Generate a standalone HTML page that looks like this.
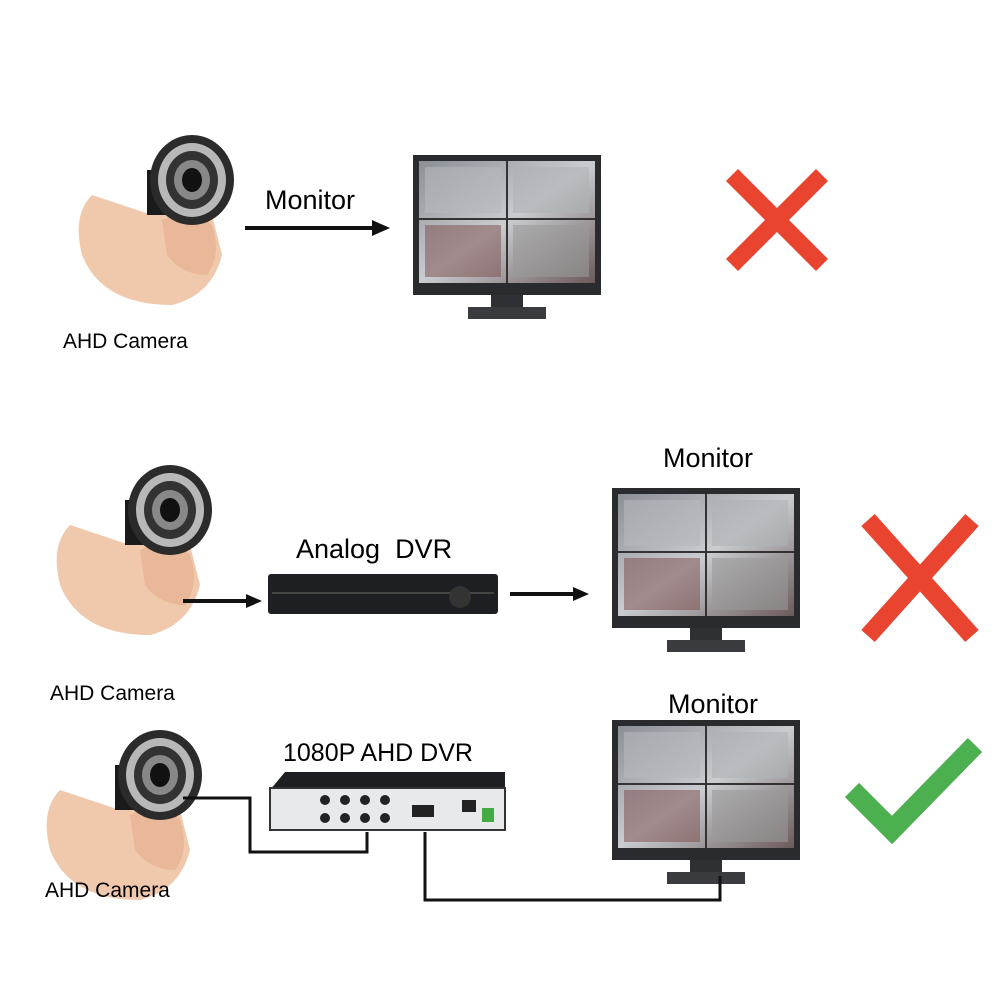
<!DOCTYPE html>
<html><head><meta charset="utf-8"><style>
html,body{margin:0;padding:0;background:#fff;width:1000px;height:1000px;overflow:hidden}
svg text{font-family:"Liberation Sans",Arial,sans-serif;fill:#000}
</style></head><body>
<svg width="1000" height="1000" viewBox="0 0 1000 1000" xmlns="http://www.w3.org/2000/svg">
<defs>
<linearGradient id="scr" x1="0" y1="0" x2="1" y2="1">
<stop offset="0" stop-color="#8a8f96"/><stop offset="0.5" stop-color="#c9ccd0"/><stop offset="1" stop-color="#6b5a5a"/></linearGradient>
<g id="cam">
<!-- finger/hand -->
<ellipse cx="0" cy="0" rx="1" ry="1" fill="none"/>
</g>
<g id="monitor">
<rect x="0" y="0" width="188" height="140" fill="#2a2b2e"/>
<rect x="6" y="6" width="176" height="122" fill="url(#scr)"/>
<line x1="94" y1="6" x2="94" y2="128" stroke="#333" stroke-width="2"/>
<line x1="6" y1="64" x2="182" y2="64" stroke="#333" stroke-width="2"/>
<rect x="12" y="70" width="76" height="52" fill="#7a4a4a" opacity="0.5"/>
<rect x="100" y="70" width="76" height="52" fill="#9a9a9a" opacity="0.6"/>
<rect x="12" y="12" width="76" height="46" fill="#b5b8bc" opacity="0.6"/>
<rect x="100" y="12" width="76" height="46" fill="#aeb2b6" opacity="0.6"/>
<rect x="78" y="140" width="32" height="12" fill="#2f3033"/>
<rect x="55" y="152" width="78" height="12" fill="#3a3b3e"/>
</g>
<g id="camera">
<path d="M30,70 Q10,90 20,130 Q40,180 110,180 Q150,170 160,130 L150,90 Q120,70 90,90 Z" fill="#f0c9ad"/>
<path d="M100,95 Q130,80 150,100 Q160,130 145,150 Q120,150 105,130 Z" fill="#e8b898"/>
<rect x="85" y="45" width="40" height="45" fill="#1a1a1a"/>
<ellipse cx="130" cy="55" rx="42" ry="45" fill="#2b2b2b"/>
<ellipse cx="130" cy="55" rx="34" ry="37" fill="#b8b8b8"/>
<ellipse cx="130" cy="55" rx="26" ry="29" fill="#333"/>
<ellipse cx="130" cy="55" rx="18" ry="20" fill="#888"/>
<ellipse cx="130" cy="55" rx="10" ry="12" fill="#111"/>
</g>
</defs>

<!-- Row 1 -->
<use href="#camera" x="62" y="125"/>
<text x="63" y="348" font-size="21">AHD Camera</text>
<text x="265" y="209" font-size="27">Monitor</text>
<line x1="245" y1="228" x2="375" y2="228" stroke="#111" stroke-width="4"/>
<polygon points="372,220 390,228 372,236" fill="#111"/>
<use href="#monitor" x="413" y="155"/>
<g stroke="#e8442f" stroke-width="17" stroke-linecap="butt">
<line x1="732" y1="175" x2="822" y2="265"/><line x1="822" y1="175" x2="732" y2="265"/></g>

<!-- Row 2 -->
<use href="#camera" x="40" y="455"/>
<text x="296" y="558" font-size="27">Analog&#160; DVR</text>
<rect x="268" y="574" width="230" height="40" rx="3" fill="#1e1f22"/>
<rect x="272" y="592" width="222" height="2" fill="#444"/>
<circle cx="460" cy="597" r="11" fill="#333"/>
<line x1="183" y1="601" x2="248" y2="601" stroke="#111" stroke-width="4"/>
<polygon points="246,594 262,601 246,608" fill="#111"/>
<line x1="510" y1="594" x2="575" y2="594" stroke="#111" stroke-width="4"/>
<polygon points="573,587 589,594 573,601" fill="#111"/>
<text x="663" y="467" font-size="27">Monitor</text>
<use href="#monitor" x="612" y="488" transform="translate(0,0)"/>
<g stroke="#e8442f" stroke-width="18">
<line x1="868" y1="520" x2="972" y2="636"/><line x1="972" y1="520" x2="868" y2="636"/></g>
<text x="50" y="700" font-size="21">AHD Camera</text>

<!-- Row 3 -->
<use href="#camera" x="30" y="720" transform="scale(1)"/>
<text x="45" y="897" font-size="21">AHD Camera</text>
<text x="283" y="761" font-size="25">1080P AHD DVR</text>
<polygon points="270,790 285,772 505,772 505,790" fill="#1e1f22"/>
<rect x="270" y="788" width="235" height="42" fill="#e8e9eb" stroke="#333" stroke-width="2"/>
<g fill="#222"><circle cx="325" cy="800" r="5"/><circle cx="345" cy="800" r="5"/><circle cx="365" cy="800" r="5"/><circle cx="385" cy="800" r="5"/>
<circle cx="325" cy="818" r="5"/><circle cx="345" cy="818" r="5"/><circle cx="365" cy="818" r="5"/><circle cx="385" cy="818" r="5"/>
<rect x="412" y="805" width="22" height="12"/><rect x="462" y="800" width="14" height="12"/><rect x="482" y="808" width="12" height="14" fill="#4a4"/></g>
<text x="668" y="713" font-size="27">Monitor</text>
<use href="#monitor" x="612" y="720"/>
<polyline points="852,790 892,830 975,745" fill="none" stroke="#4caf50" stroke-width="20"/>
<g fill="none" stroke="#111" stroke-width="3">
<polyline points="183,798 250,798 250,852 367,852 367,832"/>
<polyline points="425,832 425,900 720,900 720,876"/>
</g>
</svg>
</body></html>
